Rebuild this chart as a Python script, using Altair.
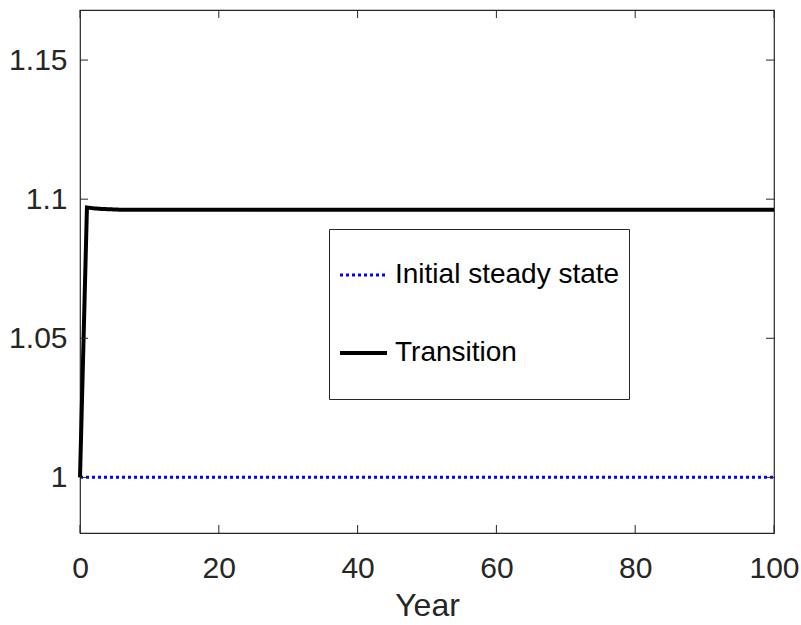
import altair as alt
import pandas as pd

# --- data ---
trans_years = [0, 1, 2, 3, 4, 5, 6, 8, 10, 15, 20, 30, 40, 50, 60, 70, 80, 90, 100]
trans_vals = [1.0, 1.0970, 1.0967, 1.0965, 1.0964, 1.0963, 1.0962, 1.0962, 1.0962,
              1.0962, 1.0962, 1.0962, 1.0962, 1.0962, 1.0962, 1.0962, 1.0962, 1.0962, 1.0962]
init_years = [0, 100]
init_vals = [1.0, 1.0]
series_names = ["Initial steady state", "Transition"]
x_ticks = [0, 20, 40, 60, 80, 100]
y_ticks = [1.0, 1.05, 1.1, 1.15]

W, H = 694, 523
FONT = "Liberation Sans"
AX = "#262626"

df = pd.concat([
    pd.DataFrame({"Year": init_years, "value": init_vals, "series": series_names[0]}),
    pd.DataFrame({"Year": trans_years, "value": trans_vals, "series": series_names[1]}),
])

xs = alt.Scale(domain=[0, 100], nice=False, zero=False)
ys = alt.Scale(domain=[0.98, 1.168], nice=False, zero=False)

lines = alt.Chart(df).mark_line(strokeCap="butt", strokeJoin="miter").encode(
    x=alt.X("Year:Q", scale=xs,
            axis=alt.Axis(values=x_ticks, title="Year", grid=False, ticks=False, tickSize=0,
                          domain=False, labelFontSize=30, labelColor=AX, labelPadding=20,
                          labelFlush=False, labelOverlap=False,
                          labelFont=FONT, titleFont=FONT, titleFontSize=32,
                          titleFontWeight="normal", titleColor=AX, titlePadding=7)),
    y=alt.Y("value:Q", scale=ys,
            axis=alt.Axis(values=y_ticks, title=None, grid=False, ticks=False, tickSize=0,
                          domain=False, labelFontSize=30, labelColor=AX, labelPadding=13,
                          labelFlush=False, labelOverlap=False,
                          labelFont=FONT, labelExpr="format(datum.value, '~g')")),
    color=alt.Color("series:N", title=None,
                    scale=alt.Scale(domain=series_names, range=["#0000ff", "#000000"]),
                    legend=alt.Legend(orient="none", legendX=249, legendY=219,
                                      symbolType="stroke", symbolSize=2209,
                                      labelFontSize=28, labelFont=FONT, labelColor="#000000",
                                      labelOffset=6, padding=9, rowPadding=4, clipHeight=74,
                                      strokeColor=AX, fillColor="white", labelLimit=400)),
    strokeDash=alt.StrokeDash("series:N", title=None,
                              scale=alt.Scale(domain=series_names, range=[[3, 3], [1, 0]])),
    strokeWidth=alt.StrokeWidth("series:N", title=None,
                                scale=alt.Scale(domain=series_names, range=[3, 4])),
    detail="series:N",
)

tl = 8
ydf = pd.DataFrame({"v": y_ticks})
xdf = pd.DataFrame({"v": x_ticks})
ytick_l = alt.Chart(ydf).mark_rule(color=AX, strokeWidth=1).encode(
    y=alt.Y("v:Q", scale=ys), x=alt.value(0), x2=alt.value(tl))
ytick_r = alt.Chart(ydf).mark_rule(color=AX, strokeWidth=1).encode(
    y=alt.Y("v:Q", scale=ys), x=alt.value(W - tl), x2=alt.value(W))
xtick_b = alt.Chart(xdf).mark_rule(color=AX, strokeWidth=1).encode(
    x=alt.X("v:Q", scale=xs), y=alt.value(H - tl), y2=alt.value(H))
xtick_t = alt.Chart(xdf).mark_rule(color=AX, strokeWidth=1).encode(
    x=alt.X("v:Q", scale=xs), y=alt.value(0), y2=alt.value(tl))

chart = alt.layer(lines, ytick_l, ytick_r, xtick_b, xtick_t).properties(
    width=W, height=H,
    autosize=alt.AutoSizeParams(type="none"),
    padding={"left": 80, "top": 10, "right": 27, "bottom": 92},
    background="white",
).configure_view(stroke=AX, strokeWidth=1.2)

chart.save("out.html", embed_options={"renderer": "svg", "actions": False})
